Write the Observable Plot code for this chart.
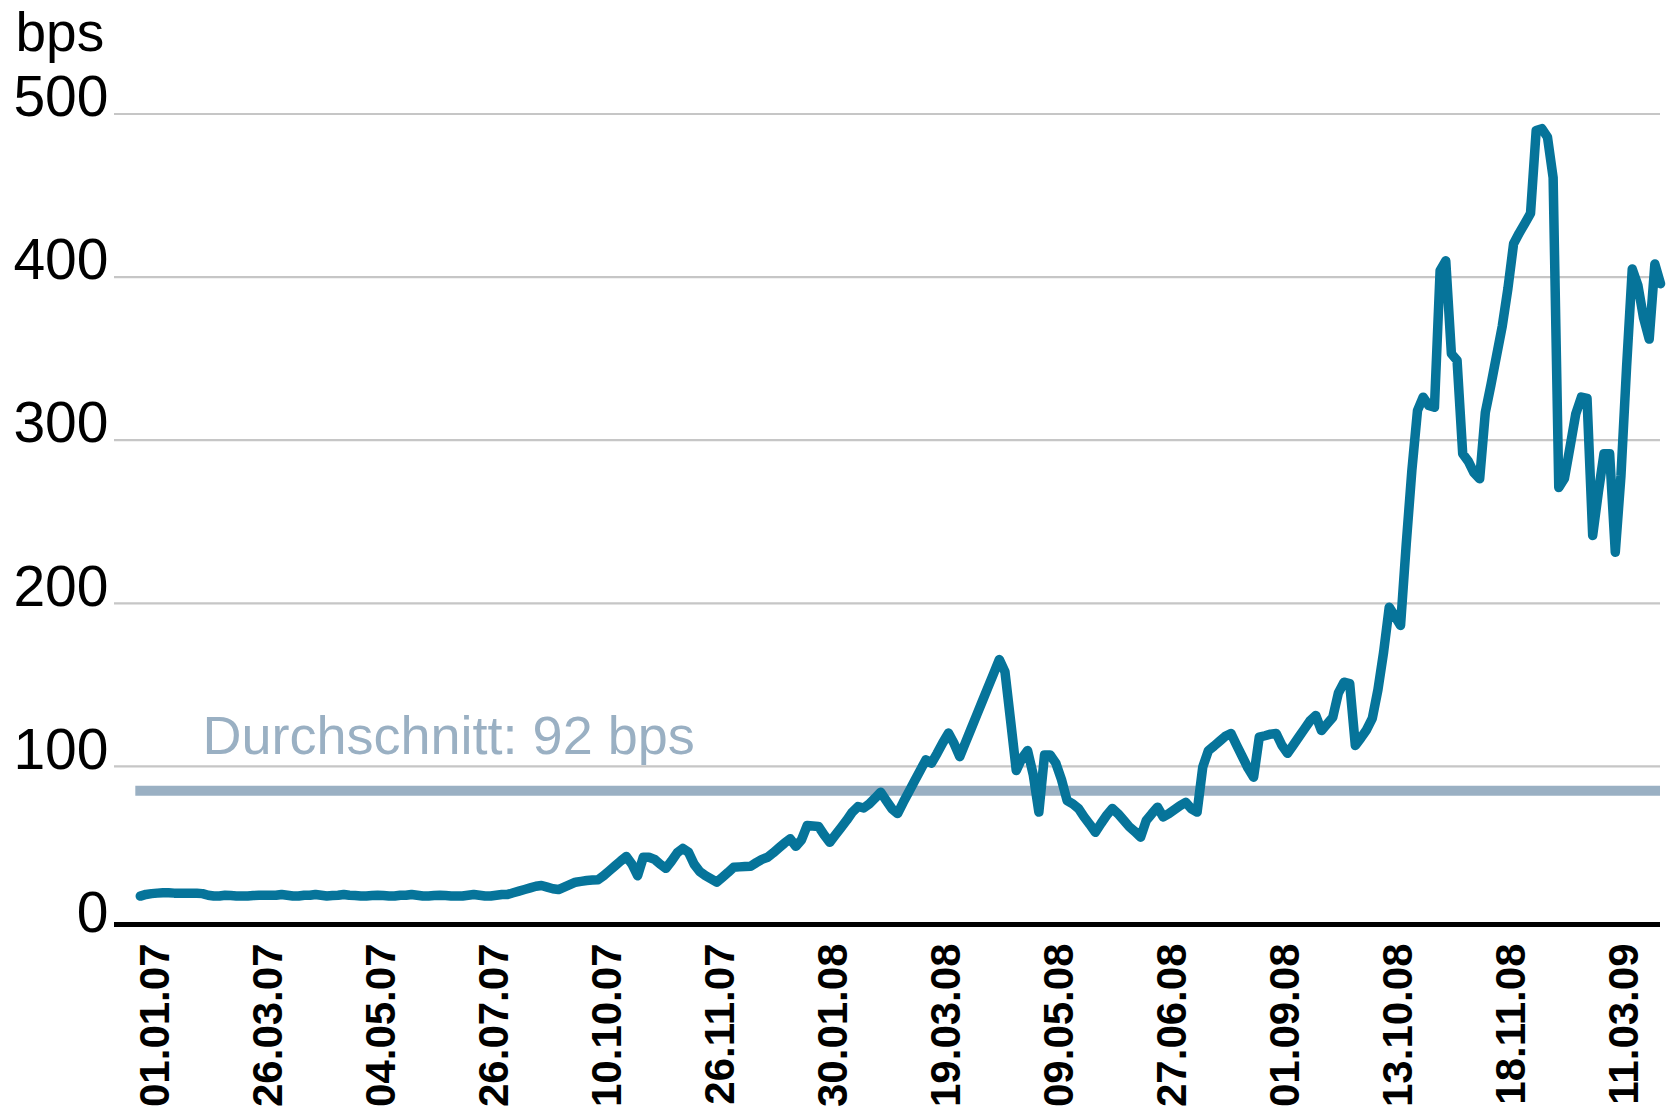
<!DOCTYPE html>
<html>
<head>
<meta charset="utf-8">
<script src="https://cdn.jsdelivr.net/npm/d3@7"></script>
<script src="https://cdn.jsdelivr.net/npm/@observablehq/plot@0.6"></script>
<style>
  html, body { margin: 0; padding: 0; background: #ffffff; }
  #chart svg { display: block; }
</style>
</head>
<body>
<div id="chart"></div>
<script>
// Spread in bps, one value per observation (category axis, evenly spaced)
const values = [
  20.5, 21.5, 22, 22.3, 22.5, 22.5, 22.3, 22.3, 22.3, 22.2,
  22.2, 22, 21, 20.5, 20.5, 21, 20.8, 20.5, 20.5, 20.5,
  20.8, 21, 21, 21, 21, 21.5, 21, 20.5, 20.5, 21,
  21, 21.5, 21, 20.5, 20.8, 21, 21.5, 21, 20.8, 20.5,
  20.5, 20.8, 21, 20.8, 20.5, 20.5, 21, 21, 21.5, 21,
  20.5, 20.5, 20.8, 21, 20.8, 20.5, 20.5, 20.5, 21, 21.5,
  21, 20.5, 20.5, 21, 21.5, 21.5, 22.5, 23.5, 24.5, 25.5,
  26.5, 27, 26, 25, 24.5, 26, 27.5, 29, 29.5, 30,
  30.3, 30.5, 33, 36, 39, 42, 44.8, 40, 33, 44.3,
  44.3, 43, 40, 37.5, 42, 47, 49.7, 47.4, 40, 35.5,
  33, 31, 29, 32, 35, 38.2, 38.4, 38.6, 38.8, 41,
  43, 44.3, 47, 50, 53, 55.6, 51, 55, 63.8, 63.5,
  63.2, 58, 53.5, 58, 62.5, 67, 72, 75.4, 74.5, 77,
  80.5, 84.2, 79, 74, 71.1, 78, 84.5, 91, 97.5, 104,
  102, 108, 114.5, 120.4, 114, 106, 114.5, 123, 131.5, 140,
  148.5, 157, 165.5, 158, 128, 97.5, 105, 109.7, 95, 72,
  107, 107, 102, 92, 79, 77, 74.2, 69, 64.5, 59.6,
  65, 70, 74.2, 71, 67, 63, 60, 56.6, 66.8, 71,
  75, 69, 71, 73.5, 76, 78, 74, 72, 99.6, 109.7,
  112.5, 115.5, 118.5, 120.2, 113, 106, 99, 93.4, 117.9, 118.8,
  119.8, 120.2, 113, 108, 113, 118, 123, 128, 131.2, 122,
  126, 130, 145, 151.6, 150.8, 112.8, 117.5, 122.5, 129.4, 147,
  170, 197.6, 192, 186.4, 236, 281.4, 318.2, 326.4, 321.3, 320.2,
  404, 410, 353, 349, 291.7, 287, 280, 276.3, 317, 334,
  352, 370, 393, 420.4, 427, 433, 439, 489.9, 491, 485.8,
  461, 271, 276.5, 296, 316, 326.4, 325.6, 241.6, 268, 291.7,
  291.7, 231.3, 278, 345, 405, 395, 375, 362, 408, 396
];

// Category tick labels, one every 20 observations
const tickLabels = [
  "01.01.07", "26.03.07", "04.05.07", "26.07.07", "10.10.07", "26.11.07", "30.01.08",
  "19.03.08", "09.05.08", "27.06.08", "01.09.08", "13.10.08", "18.11.08", "11.03.09"
];
const tickEvery = 20;

const yTicks = [0, 100, 200, 300, 400, 500];
const gridTicks = [100, 200, 300, 400, 500];

// Average line (drawn position as in the picture) and its label
const averageLevel = [85];
const averageLabel = ["Durchschnitt: 92 bps"];
const unitLabel = ["bps"];

const data = values.map((v, i) => ({ i, v }));
const ticks = tickLabels.map((t, j) => ({ i: j * tickEvery, t }));
const lastIndex = values.length - 1;

const FONT = "'Liberation Sans', Arial, Helvetica, sans-serif";

const chart = Plot.plot({
  width: 1671,
  height: 1108,
  marginLeft: 114,
  marginRight: 11,
  marginTop: 113.5,
  marginBottom: 179,
  x: { domain: [-4.57, lastIndex], axis: null },
  y: { domain: [0, 500], axis: null },
  style: { fontFamily: FONT, background: "#ffffff", overflow: "visible" },
  marks: [
    Plot.ruleY(gridTicks, { stroke: "#c6c6c6", strokeWidth: 2.2 }),
    Plot.ruleY(averageLevel, { x1: -0.8, x2: lastIndex, stroke: "#9ab0c3", strokeWidth: 10 }),
    Plot.text(averageLabel, {
      y: () => averageLevel[0], frameAnchor: "left", textAnchor: "start", lineAnchor: "middle",
      dx: 88, dy: -54, fontSize: 54, fill: "#9ab0c3", fontFamily: FONT
    }),
    Plot.line(data, {
      x: "i", y: "v", stroke: "#06749a", strokeWidth: 9.5,
      strokeLinejoin: "round", strokeLinecap: "round"
    }),
    Plot.ruleY([0], { stroke: "#000000", strokeWidth: 5, dy: -5 }),
    Plot.text(yTicks, {
      y: d => d, text: d => String(d), frameAnchor: "left", textAnchor: "end", lineAnchor: "middle",
      dx: -6, dy: -16, fontSize: 57, fill: "#000000", fontFamily: FONT
    }),
    Plot.text(unitLabel, {
      frameAnchor: "top-left", textAnchor: "start", lineAnchor: "middle",
      dx: -99, dy: -81, fontSize: 55, fill: "#000000", fontFamily: FONT
    }),
    Plot.text(ticks, {
      x: "i", y: () => 0, text: "t", rotate: -90, textAnchor: "end", lineAnchor: "middle",
      dx: 15, dy: 14, fontSize: 42, fontWeight: "bold", fill: "#000000", fontFamily: FONT
    })
  ]
});

document.getElementById("chart").appendChild(chart);
</script>
</body>
</html>
